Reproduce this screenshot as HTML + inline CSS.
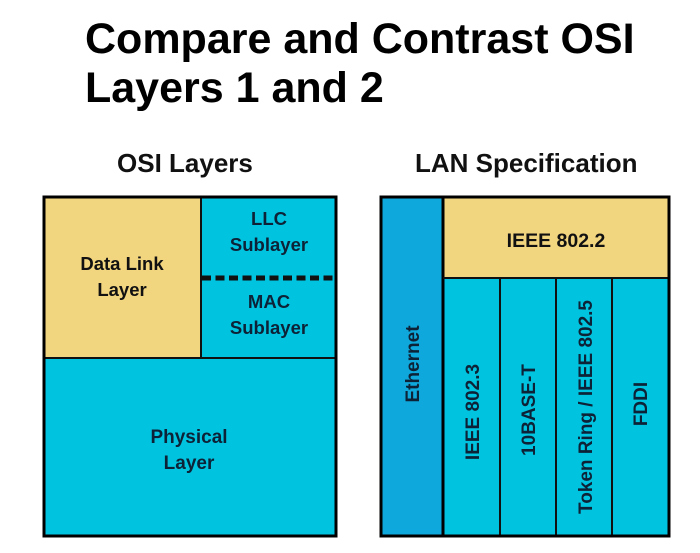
<!DOCTYPE html>
<html>
<head>
<meta charset="utf-8">
<style>
  html, body { margin: 0; padding: 0; background: #ffffff; }
  body { width: 700px; height: 553px; overflow: hidden; }
  svg { display: block; }
  text { font-family: "Liberation Sans", Arial, sans-serif; font-weight: bold; }
</style>
</head>
<body>
<svg width="700" height="553" viewBox="0 0 700 553" xmlns="http://www.w3.org/2000/svg">
  <rect x="0" y="0" width="700" height="553" fill="#ffffff"/>

  <!-- Title -->
  <text x="85" y="53" font-size="43" fill="#000">Compare and Contrast OSI</text>
  <text x="85" y="102" font-size="43" fill="#000">Layers 1 and 2</text>

  <!-- Headings -->
  <text x="117" y="172" font-size="26" fill="#111">OSI Layers</text>
  <text x="415" y="172" font-size="26" fill="#111">LAN Specification</text>

  <!-- LEFT BOX: OSI Layers -->
  <rect x="44" y="197" width="157" height="161" fill="#f2d57f"/>
  <rect x="201" y="197" width="135" height="161" fill="#00c4df"/>
  <rect x="44" y="358" width="292" height="178" fill="#00c4df"/>
  <line x1="201" y1="197" x2="201" y2="358" stroke="#111" stroke-width="2"/>
  <line x1="44" y1="358" x2="336" y2="358" stroke="#111" stroke-width="2"/>
  <line x1="202" y1="278" x2="336" y2="278" stroke="#111" stroke-width="5" stroke-dasharray="9 4.5"/>
  <rect x="44" y="197" width="292" height="339" fill="none" stroke="#000" stroke-width="3"/>

  <text x="122" y="270" font-size="18.5" fill="#111" text-anchor="middle">Data Link</text>
  <text x="122" y="296" font-size="18.5" fill="#111" text-anchor="middle">Layer</text>
  <text x="269" y="225" font-size="18.5" fill="#0d2236" text-anchor="middle">LLC</text>
  <text x="269" y="251" font-size="18.5" fill="#0d2236" text-anchor="middle">Sublayer</text>
  <text x="269" y="308" font-size="18.5" fill="#0d2236" text-anchor="middle">MAC</text>
  <text x="269" y="334" font-size="18.5" fill="#0d2236" text-anchor="middle">Sublayer</text>
  <text x="189" y="443" font-size="19" fill="#0d2236" text-anchor="middle">Physical</text>
  <text x="189" y="469" font-size="19" fill="#0d2236" text-anchor="middle">Layer</text>

  <!-- RIGHT BOX: LAN Specification -->
  <rect x="381" y="197" width="62" height="339" fill="#0ea8dc"/>
  <rect x="443" y="197" width="226" height="81" fill="#f2d57f"/>
  <rect x="443" y="278" width="226" height="258" fill="#00c4df"/>
  <line x1="443" y1="197" x2="443" y2="536" stroke="#000" stroke-width="3"/>
  <line x1="443" y1="278" x2="669" y2="278" stroke="#111" stroke-width="2"/>
  <line x1="500" y1="278" x2="500" y2="536" stroke="#111" stroke-width="2"/>
  <line x1="556" y1="278" x2="556" y2="536" stroke="#111" stroke-width="2"/>
  <line x1="612" y1="278" x2="612" y2="536" stroke="#111" stroke-width="2"/>
  <rect x="381" y="197" width="288" height="339" fill="none" stroke="#000" stroke-width="3"/>

  <text x="556" y="247" font-size="19.5" fill="#111" text-anchor="middle">IEEE 802.2</text>

  <text x="419" y="364" font-size="19" fill="#0d2236" text-anchor="middle" transform="rotate(-90 419 364)">Ethernet</text>
  <text x="479" y="412" font-size="19" fill="#0d2236" text-anchor="middle" transform="rotate(-90 479 412)">IEEE 802.3</text>
  <text x="535" y="410" font-size="19" fill="#0d2236" text-anchor="middle" transform="rotate(-90 535 410)">10BASE-T</text>
  <text x="592" y="407" font-size="19" fill="#0d2236" text-anchor="middle" transform="rotate(-90 592 407)">Token Ring / IEEE 802.5</text>
  <text x="647" y="404" font-size="19" fill="#0d2236" text-anchor="middle" transform="rotate(-90 647 404)">FDDI</text>
</svg>
</body>
</html>
